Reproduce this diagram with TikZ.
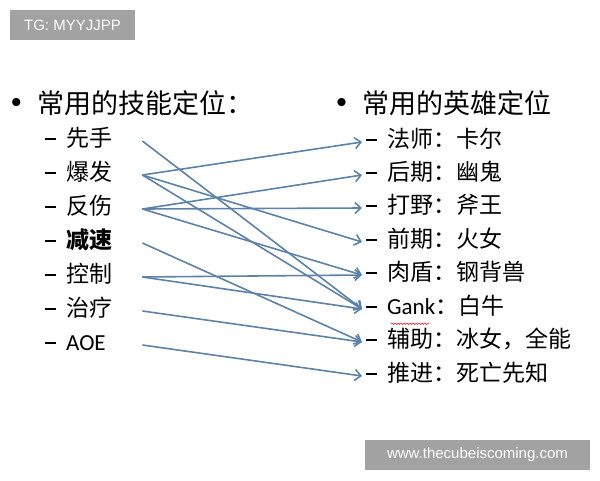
\documentclass[tikz,border=0pt]{standalone}
\usepackage{fontspec}
\setmainfont{Noto Sans CJK SC}
\newfontfamily\latinfont{Carlito}
\newfontfamily\tagfont{Liberation Sans}
\usetikzlibrary{arrows.meta,decorations.pathmorphing}

\definecolor{linkblue}{RGB}{92,130,170}
\definecolor{taggray}{RGB}{162,162,162}
\newcommand{\itemdash}{\rule[0.3em]{11pt}{2pt}\hspace{10pt}}

\begin{document}
\begin{tikzpicture}[x=1pt,y=-1pt,
    head/.style={anchor=west,inner sep=0pt,font=\fontsize{27}{32}\selectfont},
    dot/.style={inner sep=0pt,font=\tagfont\fontsize{30}{34}\selectfont},
    skill/.style={anchor=west,inner sep=0pt,text width=97pt,
        text height=17pt,text depth=6pt,font=\fontsize{23}{27}\selectfont},
    hero/.style={anchor=west,inner xsep=4pt,inner ysep=0pt,
        text height=17pt,text depth=6pt,font=\fontsize{23}{27}\selectfont},
    link/.style={draw=linkblue,line width=1.6pt,
        -{Straight Barb[length=6pt,width=11pt]}},
    tag/.style={fill=taggray,text=white,inner sep=0pt,minimum height=30pt,
        font=\tagfont\fontsize{15}{18}\selectfont}]
    \useasboundingbox (0,0) rectangle (600,480);
    % watermarks
    \path (72.5,25) node[tag,minimum width=125pt](tgtag){TG: MYYJJPP};
    \path (477.5,455) node[tag,minimum width=225pt](webtag){www.thecubeiscoming.com};
    % headings
    \path (16.5,105) node[dot](bl){•};
    \path (37,103) node[head](skills){常用的技能定位：};
    \path (341.5,105) node[dot](br){•};
    \path (362,103) node[head](heroes){常用的英雄定位};
    % left column
    \path (45,141) node[skill](s1){\itemdash 先手};
    \path (45,175) node[skill](s2){\itemdash 爆发};
    \path (45,209) node[skill](s3){\itemdash 反伤};
    \path (45,243) node[skill](s4){\itemdash\bfseries 减速};
    \path (45,277) node[skill](s5){\itemdash 控制};
    \path (45,311) node[skill](s6){\itemdash 治疗};
    \path (45,345) node[skill](s7){\itemdash{\latinfont AOE}};
    % right column
    \path (362,142) node[hero](h1){\itemdash 法师：卡尔};
    \path (362,175) node[hero](h2){\itemdash 后期：幽鬼};
    \path (362,208) node[hero](h3){\itemdash 打野：斧王};
    \path (362,242) node[hero](h4){\itemdash 前期：火女};
    \path (362,275) node[hero](h5){\itemdash 肉盾：钢背兽};
    \path (362,309) node[hero](h6){\itemdash{\latinfont Gank}：白牛};
    \path (362,342) node[hero](h7){\itemdash 辅助：冰女，全能};
    \path (362,376) node[hero](h8){\itemdash 推进：死亡先知};
    \draw[red,line width=0.5pt,decorate,decoration={snake,amplitude=0.8pt,segment length=3pt}]
        ([xshift=29pt,yshift=-3pt]h6.south west) -- ([xshift=67pt,yshift=-3pt]h6.south west);
    % links
    \draw[link] (s1.east) -- (h6.west);
    \draw[link] (s2.east) -- (h1.west);
    \draw[link] (s2.east) -- (h4.west);
    \draw[link] (s2.east) -- (h6.west);
    \draw[link] (s3.east) -- (h2.west);
    \draw[link] (s3.east) -- (h3.west);
    \draw[link] (s3.east) -- (h5.west);
    \draw[link] (s4.east) -- (h7.west);
    \draw[link] (s5.east) -- (h5.west);
    \draw[link] (s5.east) -- (h6.west);
    \draw[link] (s6.east) -- (h7.west);
    \draw[link] (s7.east) -- (h8.west);
\end{tikzpicture}
\end{document}
